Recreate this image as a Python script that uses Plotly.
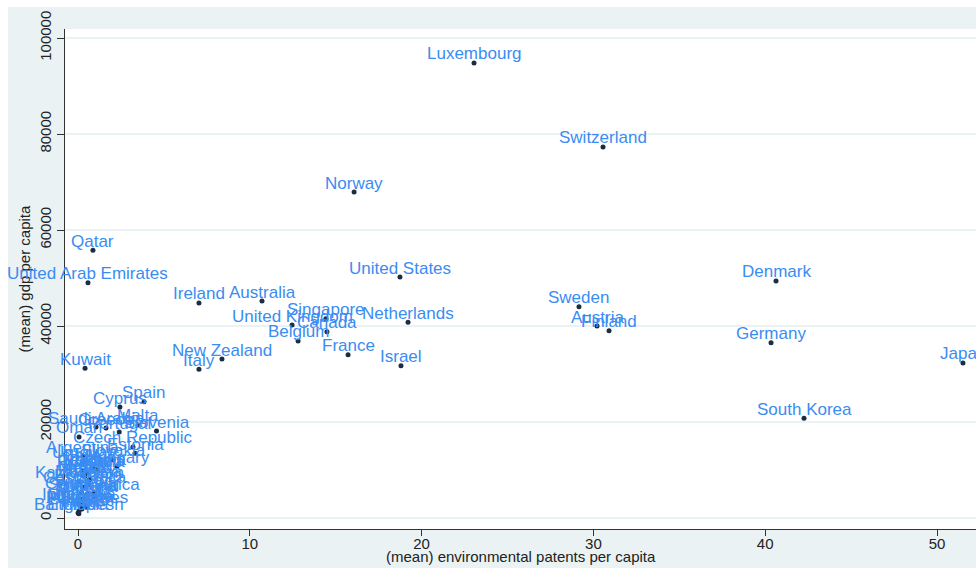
import plotly.graph_objects as go

# Country-level means: environmental patents per capita vs GDP per capita
countries = [
    "Luxembourg", "Switzerland", "Norway", "Qatar", "United Arab Emirates",
    "Ireland", "Australia", "United States", "Denmark", "Sweden",
    "Austria", "Finland", "Germany", "Japan", "South Korea",
    "Netherlands", "Singapore", "United Kingdom", "Canada", "Belgium",
    "France", "Israel", "New Zealand", "Italy", "Kuwait",
    "Spain", "Cyprus", "Saudi Arabia", "Greece", "Malta",
    "Portugal", "Slovenia", "Oman", "Czech Republic", "Estonia",
    "Argentina", "Slovakia", "Hungary", "Poland", "Croatia",
    "Chile", "Lithuania", "Latvia", "Russia", "Uruguay",
    "Brazil", "Mexico", "Malaysia", "Turkey", "Kazakhstan",
    "Romania", "Costa Rica", "Bulgaria", "South Africa", "China",
    "Colombia", "Thailand", "Tunisia", "Ukraine", "Egypt",
    "Philippines", "Indonesia", "Morocco", "Pakistan", "India",
    "Bangladesh", "Ethiopia",
]

patents_per_capita = [
    23.05, 30.56, 16.07, 0.87, 0.58,
    7.04, 10.71, 18.74, 40.63, 29.16,
    30.21, 30.91, 40.34, 51.51, 42.26,
    19.21, 14.43, 12.46, 14.49, 12.81,
    15.72, 18.80, 8.38, 7.04, 0.41,
    3.84, 2.44, 1.05, 1.63, 3.49,
    2.40, 4.57, 0.06, 3.20, 3.32,
    0.29, 2.04, 2.27, 0.99, 1.16,
    0.20, 0.80, 0.50, 0.30, 0.40,
    0.30, 0.40, 0.64, 0.70, 0.10,
    0.60, 0.40, 0.52, 0.93, 0.99,
    0.20, 0.50, 0.30, 0.35, 0.23,
    0.52, 0.05, 0.10, 0.23, 0.06,
    0.05, 0.00,
]

gdp_per_capita = [
    94800, 77300, 67900, 55800, 49000,
    44800, 45200, 50200, 49400, 44000,
    40000, 39000, 36500, 32300, 20800,
    40800, 41500, 40200, 38800, 36900,
    34000, 31700, 33100, 31000, 31200,
    24200, 23100, 18950, 18750, 19400,
    17900, 18100, 16900, 14800, 13500,
    12900, 12100, 10800, 10200, 10000,
    11200, 10400, 9500, 9800, 11800,
    9000, 8700, 7900, 8100, 7600,
    7000, 6500, 5000, 5200, 4600,
    5300, 4800, 4000, 2700, 2500,
    2300, 3000, 2800, 1900, 1460,
    900, 1040,
]

x_ticks = [0, 10, 20, 30, 40, 50]
y_ticks = [0, 20000, 40000, 60000, 80000, 100000]
x_title = "(mean) environmental patents per capita"
y_title = "(mean) gdp per capita"

bg = "#eaf2f3"
label_color = "#3a8cf2"
axis_font = dict(family="Liberation Sans Narrow, Arial Narrow, Liberation Sans, Arial",
                 size=15, color="#222222")
label_font = dict(family="Liberation Sans, Arial", size=17, color=label_color)

fig = go.Figure()
fig.add_trace(go.Scatter(
    x=patents_per_capita,
    y=gdp_per_capita,
    mode="markers",
    text=countries,
    marker=dict(size=5, color="#1a2d44"),
    hoverinfo="text+x+y",
))

# marker labels centred just above each point
annotations = [
    dict(x=xv, y=yv, xref="x", yref="y", text=name, showarrow=False,
         xanchor="center", yanchor="middle", yshift=9, font=label_font)
    for name, xv, yv in zip(countries, patents_per_capita, gdp_per_capita)
]
# x-axis title sits tight under the tick labels
annotations.append(dict(
    x=0.5, y=0, xref="paper", yref="paper", text=x_title, showarrow=False,
    xanchor="center", yanchor="middle", yshift=-27, font=axis_font,
))

fig.update_layout(
    width=976, height=568,
    margin=dict(l=65, r=0, t=29, b=39),
    paper_bgcolor=bg,
    plot_bgcolor="white",
    showlegend=False,
    annotations=annotations,
    shapes=[
        # white frame strips around the graph region
        dict(type="rect", xref="paper", yref="paper", layer="below",
             x0=-0.08, x1=1.01, y0=1 + 22 / 500, y1=1.07,
             fillcolor="white", line=dict(width=0)),
        dict(type="rect", xref="paper", yref="paper", layer="below",
             x0=-0.08, x1=-57 / 911, y0=-0.1, y1=1.07,
             fillcolor="white", line=dict(width=0)),
    ],
)

fig.update_xaxes(
    range=[-0.757, 52.27],
    tickvals=x_ticks,
    ticktext=[str(v) for v in x_ticks],
    ticks="outside", ticklen=6, tickwidth=1, tickcolor="#333333",
    ticklabelstandoff=-5,
    showline=True, linecolor="#333333", linewidth=1,
    showgrid=False, zeroline=False,
    tickfont=axis_font,
)

fig.update_yaxes(
    range=[-2292, 101875],
    tickvals=y_ticks,
    ticktext=[str(v) for v in y_ticks],
    tickangle=-90,
    ticks="outside", ticklen=7, tickwidth=1, tickcolor="#333333",
    showline=True, linecolor="#333333", linewidth=1,
    showgrid=True, gridcolor=bg, gridwidth=1.5,
    zeroline=False,
    tickfont=axis_font,
    title=dict(text=y_title, font=axis_font, standoff=2),
)

fig.write_html("out.html")
